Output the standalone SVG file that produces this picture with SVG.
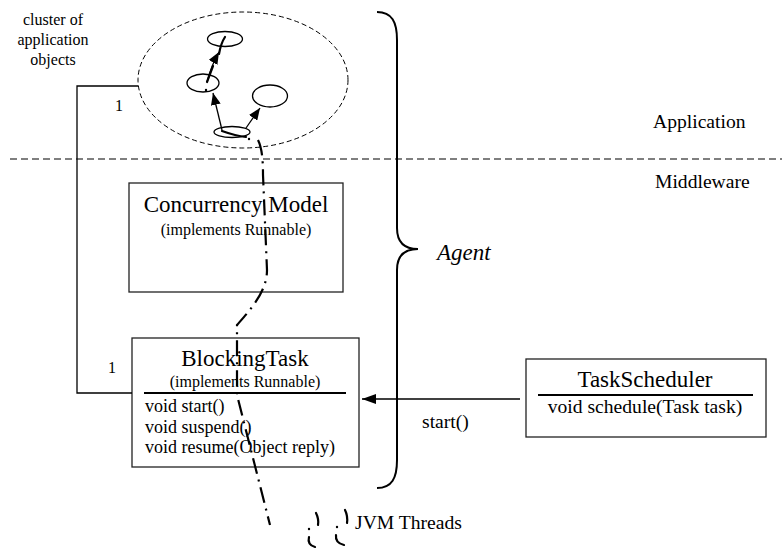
<svg xmlns="http://www.w3.org/2000/svg" width="782" height="549" viewBox="0 0 782 549">
<style>
text{font-family:"Liberation Serif","Times New Roman",serif;fill:#000}
.box{fill:#fff;stroke:#222;stroke-width:1.3}
.div{stroke:#000;stroke-width:2.2}
.thin{fill:none;stroke:#000;stroke-width:1.3}
.thread{fill:none;stroke:#000;stroke-width:2.2;stroke-dasharray:16 6 2 6}
.seg{fill:none;stroke:#000;stroke-width:2.2;stroke-linecap:round}
.t23{font-size:23px}
.t19{font-size:19.6px}
.t18{font-size:18px}
.t16{font-size:16px}
</style>
<defs>
<marker id="ah" viewBox="0 0 12 10" refX="12" refY="5" markerWidth="12" markerHeight="10" markerUnits="userSpaceOnUse" orient="auto">
<path d="M0,0 L12,5 L0,10 z" fill="#000"/>
</marker>
<marker id="ahs" viewBox="0 0 14 10" refX="14" refY="5" markerWidth="14" markerHeight="10" markerUnits="userSpaceOnUse" orient="auto">
<path d="M0,0 L14,5 L0,10 z" fill="#000"/>
</marker>
</defs>

<rect width="782" height="549" fill="#fff"/>

<!-- layer separator -->
<line x1="10" y1="159" x2="782" y2="159" stroke="#000" stroke-width="1.2" stroke-dasharray="7 4"/>
<text class="t19" x="653" y="128">Application</text>
<text class="t19" x="655" y="188">Middleware</text>

<!-- cluster -->
<g id="cluster">
<ellipse cx="243" cy="80" rx="105" ry="68" fill="none" stroke="#000" stroke-width="1" stroke-dasharray="5 3"/>
<ellipse cx="225" cy="39" rx="17.5" ry="7.5" class="thin"/>
<ellipse cx="203" cy="83" rx="16" ry="9" class="thin"/>
<ellipse cx="270" cy="96" rx="17.5" ry="11" class="thin"/>
<ellipse cx="232" cy="132" rx="18" ry="5.5" class="thin"/>
</g>
<g id="cluster-label">
<text class="t16" x="53" y="25" text-anchor="middle">cluster of</text>
<text class="t16" x="53" y="45" text-anchor="middle">application</text>
<text class="t16" x="53" y="65" text-anchor="middle">objects</text>
</g>

<!-- Concurrency Model -->
<g id="concurrency-model">
<rect class="box" x="129" y="183" width="214" height="109"/>
<text class="t23" x="236" y="212" text-anchor="middle">Concurrency Model</text>
<text class="t16" x="236" y="235" text-anchor="middle">(implements Runnable)</text>
</g>

<!-- BlockingTask -->
<g id="blocking-task">
<rect class="box" x="132" y="338" width="227" height="129"/>
<text class="t23" x="245" y="366" text-anchor="middle">BlockingTask</text>
<text class="t16" x="245" y="387" text-anchor="middle">(implements Runnable)</text>
<line class="div" x1="144" y1="393" x2="346" y2="393"/>
<text class="t18" x="145" y="412">void start()</text>
<text class="t18" x="145" y="433">void suspend()</text>
<text class="t18" x="145" y="453">void resume(Object reply)</text>
</g>

<!-- TaskScheduler -->
<g id="task-scheduler">
<rect class="box" x="526" y="359" width="240" height="78"/>
<text class="t23" x="645" y="387" text-anchor="middle">TaskScheduler</text>
<line class="div" x1="538" y1="395" x2="753" y2="395"/>
<text class="t19" x="645" y="413" text-anchor="middle">void schedule(Task task)</text>
</g>

<!-- Agent brace -->
<g id="agent">
<path d="M377,12 C392,12 397,22 397,40 L397,228 C397,243 405,249 418,249 C405,249 397,255 397,270 L397,460 C397,478 392,488 377,488" fill="none" stroke="#000" stroke-width="2"/>
<text x="437" y="260" font-size="23" font-style="italic">Agent</text>
</g>

<!-- connectors -->
<g id="connectors">
<path class="thin" d="M138,86 H77 V393 H132"/>
<text class="t16" x="115" y="111">1</text>
<text class="t16" x="108" y="373">1</text>
<line class="thin" x1="520" y1="399" x2="362" y2="399" marker-end="url(#ahs)"/>
<text class="t19" x="422" y="428">start()</text>
<line class="thin" x1="222" y1="130" x2="213" y2="93" marker-end="url(#ah)"/>
<line class="thin" x1="246" y1="128" x2="260" y2="108" marker-end="url(#ah)"/>
<path class="thin" d="M207,82 Q211,66 219,52" marker-end="url(#ah)"/>
</g>

<!-- thread of control -->
<g id="thread">
<path class="seg" d="M219,54 Q221,43 225,37"/>
<path class="seg" d="M207,82 Q210,74 213,66"/>
<circle cx="206" cy="90" r="1.2" fill="#000"/>
<path class="seg" d="M222,131 Q236,136 246,137"/>
<circle cx="249" cy="139" r="1.2" fill="#000"/>
<path class="thread" d="M258,140 C262,148 263,160 263,175 L267,270 C267,292 250,310 237,325 L237,395 L270,525"/>
</g>

<!-- JVM threads legend -->
<g id="jvm-threads">
<path class="seg" d="M316,513 Q319,519 318,525"/>
<circle cx="309" cy="529" r="1.2" fill="#000"/>
<path class="seg" d="M309,537 Q307,545 315,547"/>
<path class="seg" d="M345,510 Q348,516 347,523"/>
<circle cx="337" cy="527" r="1.2" fill="#000"/>
<path class="seg" d="M336,535 Q335,543 344,545"/>
<text class="t19" x="355" y="529">JVM Threads</text>
</g>
</svg>
